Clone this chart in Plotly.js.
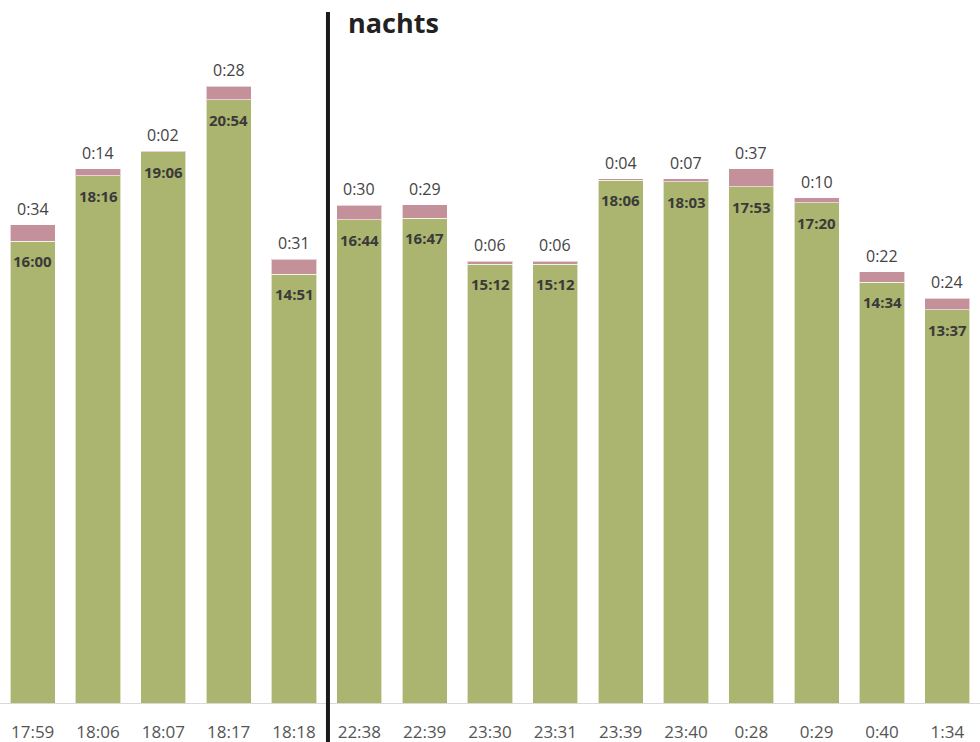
<!DOCTYPE html>
<html><head><meta charset="utf-8">
<script src="https://cdn.plot.ly/plotly-3.0.1.min.js"></script>
<style>html,body{margin:0;padding:0;background:#fff}#chart{width:980px;height:742px}</style>
</head><body><div id="chart"></div>
<script>
const categories = ["17:59","18:06","18:07","18:17","18:18","22:38","22:39","23:30","23:31","23:39","23:40","0:28","0:29","0:40","1:34"];
const greenLabels = ["16:00","18:16","19:06","20:54","14:51","16:44","16:47","15:12","15:12","18:06","18:03","17:53","17:20","14:34","13:37"];
const pinkLabels = ["0:34","0:14","0:02","0:28","0:31","0:30","0:29","0:06","0:06","0:04","0:07","0:37","0:10","0:22","0:24"];
const dividerLabel = "nachts";

function toMin(s){ const p = s.split(":"); return parseInt(p[0],10)*60 + parseInt(p[1],10); }
const greenVals = greenLabels.map(toMin);
const pinkVals = pinkLabels.map(toMin);

const green = '#abb56f', pink = '#c4919b';
const traces = [
  {type:'bar', x:categories, y:greenVals, marker:{color:green, line:{color:'rgba(255,255,255,0.6)', width:1}}, hoverinfo:'skip'},
  {type:'bar', x:categories, y:pinkVals, marker:{color:pink, line:{color:'rgba(255,255,255,0.6)', width:1}}, hoverinfo:'skip'}
];

const annotations = [];
categories.forEach((c,i)=>{
  annotations.push({x:c, y:greenVals[i]+pinkVals[i], xref:'x', yref:'y', text:pinkLabels[i], showarrow:false, yanchor:'bottom', yshift:3, font:{family:'Open Sans', size:16, color:'#444'}});
  annotations.push({x:c, y:greenVals[i], xref:'x', yref:'y', text:'<b>'+greenLabels[i]+'</b>', showarrow:false, yanchor:'top', yshift:-8, font:{family:'Open Sans', size:15, color:'#3a3a3a'}});
});
annotations.push({x:4.5, y:1, xref:'x', yref:'paper', text:'<b>'+dividerLabel+'</b>', showarrow:false, xanchor:'left', yanchor:'middle', xshift:19, yshift:-22, font:{family:'Open Sans', size:27, color:'#222'}});

const layout = {
  width:980, height:742,
  margin:{l:0, r:0, t:0, b:39},
  barmode:'stack', bargap:0.31, showlegend:false,
  paper_bgcolor:'#fff', plot_bgcolor:'#fff',
  font:{family:'Open Sans', color:'#555'},
  xaxis:{type:'category', range:[-0.5,14.5], showline:true, linecolor:'#d9d9d9', linewidth:1, ticks:'', ticklabelstandoff:14, tickfont:{family:'Open Sans', size:17, color:'#555'}, fixedrange:true},
  yaxis:{range:[0,1461], visible:false, showgrid:false, zeroline:false, fixedrange:true},
  shapes:[{type:'line', xref:'x', yref:'paper', x0:4.52, x1:4.52, y0:-0.06, y1:0.983, line:{color:'#1a1a1a', width:4}}],
  annotations:annotations
};
Plotly.newPlot('chart', traces, layout, {displayModeBar:false, staticPlot:true});
</script></body></html>
